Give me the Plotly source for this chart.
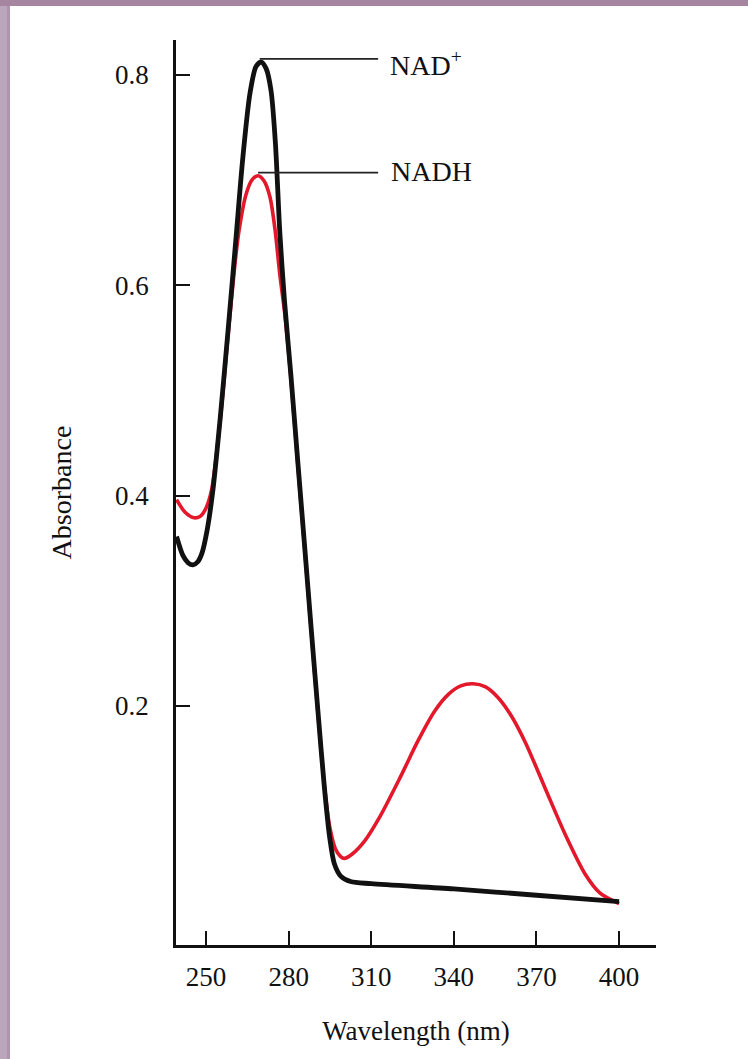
import plotly.graph_objects as go

# ---------------- data ----------------
nad_wavelength = [239.3, 241.6, 243.5, 245.3, 247.0, 248.5, 250.4, 252.5, 255.1, 258.0,
                  260.9, 263.4, 266.0, 268.2, 270.0, 271.8, 273.6, 275.2, 276.8, 278.5,
                  280.8, 283.3, 285.8, 288.3, 290.8, 293.0, 294.9, 296.6, 299.0, 302.5,
                  310.0, 340.0, 370.0, 400.0]
nad_absorbance = [0.361, 0.343, 0.336, 0.334, 0.337, 0.345, 0.367, 0.405, 0.472, 0.557,
                  0.645, 0.722, 0.783, 0.808, 0.812, 0.806, 0.785, 0.735, 0.650, 0.585,
                  0.515, 0.433, 0.352, 0.270, 0.190, 0.122, 0.075, 0.050, 0.038, 0.033,
                  0.031, 0.026, 0.020, 0.014]

nadh_wavelength = [239.3, 242.4, 245.3, 247.8, 250.0, 252.0, 255.1, 258.0, 260.5, 262.0,
                   264.5, 266.7, 268.9, 271.1, 273.2, 275.1, 276.8, 278.5, 280.8, 283.3,
                   285.8, 288.3, 290.8, 293.0, 295.0, 297.0, 298.8, 300.2, 303.0, 307.7,
                   313.2, 320.5, 327.0, 333.0, 338.0, 342.5, 347.0, 351.5, 356.0, 360.5,
                   366.0, 373.1, 380.4, 387.7, 393.1, 400.0]
nadh_absorbance = [0.396, 0.384, 0.379, 0.380, 0.388, 0.405, 0.470, 0.552, 0.620, 0.652,
                   0.686, 0.700, 0.704, 0.699, 0.684, 0.652, 0.610, 0.575, 0.512, 0.430,
                   0.350, 0.268, 0.188, 0.124, 0.084, 0.064, 0.057, 0.055, 0.059, 0.072,
                   0.095, 0.132, 0.167, 0.195, 0.211, 0.219, 0.221, 0.218, 0.208, 0.192,
                   0.165, 0.122, 0.078, 0.040, 0.022, 0.012]

x_ticks = [250, 280, 310, 340, 370, 400]
x_tick_labels = ["250", "280", "310", "340", "370", "400"]
y_ticks = [0.2, 0.4, 0.6, 0.8]
y_tick_labels = ["0.2", "0.4", "0.6", "0.8"]

label_nad = "NAD<sup>+</sup>"
label_nadh = "NADH"
x_title = "Wavelength (nm)"
y_title = "Absorbance"

# ---------------- layout geometry ----------------
W, H = 748, 1059
ML, MR, MT, MB = 176, 92, 40, 114
PW, PH = W - ML - MR, H - MT - MB


def px(x):
    return (x - ML) / PW


def py(y):
    return (H - MB - y) / PH


FONT = "Liberation Serif"
INK = "#111111"
RED = "#e3182b"

fig = go.Figure()
fig.add_trace(go.Scatter(x=nadh_wavelength, y=nadh_absorbance, mode="lines",
                         line=dict(color=RED, width=3.6, shape="spline", smoothing=0.8),
                         name="NADH", hoverinfo="skip"))
fig.add_trace(go.Scatter(x=nad_wavelength, y=nad_absorbance, mode="lines",
                         line=dict(color=INK, width=4.8, shape="spline", smoothing=0.8),
                         name="NAD+", hoverinfo="skip"))

# leader lines from the peaks to the labels
nad_peak = max(nad_absorbance)
nad_peak_x = nad_wavelength[nad_absorbance.index(nad_peak)]
nadh_peak = max(nadh_absorbance[:20])
nadh_peak_x = nadh_wavelength[nadh_absorbance.index(nadh_peak)]
leader_end = 312.5

shapes = [
    dict(type="line", xref="x", yref="y", x0=nad_peak_x - 0.5, x1=leader_end,
         y0=nad_peak + 0.003, y1=nad_peak + 0.003, line=dict(color="#222", width=1.8)),
    dict(type="line", xref="x", yref="y", x0=nadh_peak_x, x1=leader_end,
         y0=nadh_peak + 0.003, y1=nadh_peak + 0.003, line=dict(color="#222", width=1.8)),
    # scan border
    dict(type="rect", xref="paper", yref="paper", x0=px(0), x1=px(10), y0=py(H), y1=py(0),
         fillcolor="#bba6bb", line=dict(width=0), layer="above"),
    dict(type="rect", xref="paper", yref="paper", x0=px(7), x1=px(10), y0=py(H), y1=py(0),
         fillcolor="#ad95ad", line=dict(width=0), layer="above"),
    dict(type="rect", xref="paper", yref="paper", x0=px(0), x1=px(W), y0=py(6), y1=py(0),
         fillcolor="#a5859f", line=dict(width=0), layer="above"),
]

annotations = [
    dict(x=316.0, y=nad_peak - 0.001, xref="x", yref="y", text=label_nad, showarrow=False,
         xanchor="left", yanchor="middle", font=dict(family=FONT, size=28, color=INK)),
    dict(x=316.3, y=nadh_peak + 0.004, xref="x", yref="y", text=label_nadh, showarrow=False,
         xanchor="left", yanchor="middle", font=dict(family=FONT, size=28, color=INK)),
]

fig.update_layout(
    width=W, height=H,
    margin=dict(l=ML, r=MR, t=MT, b=MB, pad=0),
    paper_bgcolor="white", plot_bgcolor="white",
    showlegend=False,
    font=dict(family=FONT, size=27, color=INK),
    shapes=shapes, annotations=annotations,
    xaxis=dict(range=[239.1, 413.4], tickvals=x_ticks, ticktext=x_tick_labels,
               ticks="inside", ticklen=14, tickwidth=2, tickcolor=INK,
               showline=True, linewidth=2.5, linecolor=INK, mirror=False,
               showgrid=False, zeroline=False, ticklabelstandoff=6,
               tickfont=dict(family=FONT, size=27, color=INK),
               title=dict(text=x_title, standoff=30, font=dict(family=FONT, size=27, color=INK))),
    yaxis=dict(range=[-0.0273, 0.833], tickvals=y_ticks, ticktext=y_tick_labels,
               ticks="inside", ticklen=14, tickwidth=2, tickcolor=INK,
               showline=True, linewidth=2.5, linecolor=INK, mirror=False,
               showgrid=False, zeroline=False, ticklabelstandoff=19,
               tickfont=dict(family=FONT, size=27, color=INK),
               title=dict(text=y_title, standoff=36, font=dict(family=FONT, size=28, color=INK))),
)

fig.write_html("out.html")
